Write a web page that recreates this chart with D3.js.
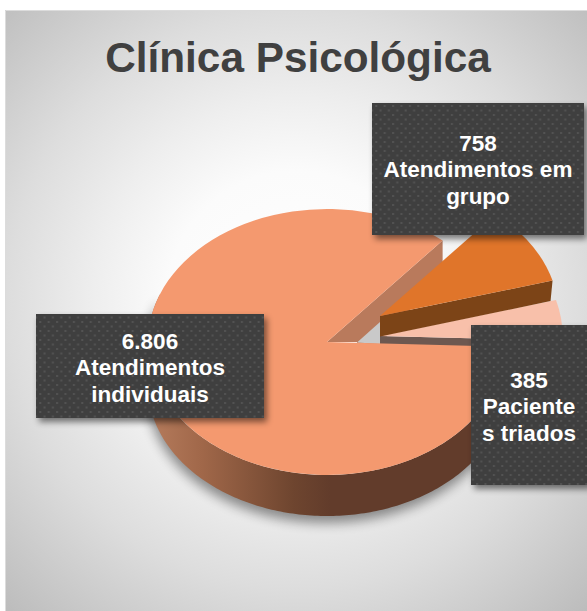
<!DOCTYPE html>
<html><head><meta charset="utf-8">
<script src="https://cdn.jsdelivr.net/npm/d3@7"></script>
<style>html,body{margin:0;padding:0;background:#fff}svg{display:block}text{font-family:"Liberation Sans",Arial,sans-serif;font-weight:bold}</style>
</head><body><svg id="c" width="587" height="611"></svg>
<script>
const title = "Clínica Psicológica";
const categories = ["Atendimentos individuais", "Atendimentos em grupo", "Pacientes triados"];
const values = [6806, 758, 385];
const valueLabels = ["6.806", "758", "385"];
const labelLines = [["Atendimentos", "individuais"], ["Atendimentos em", "grupo"], ["Paciente", "s triados"]];

const W = 587, H = 611, deg = Math.PI / 180;
const svg = d3.select("#c");
const defs = svg.append("defs");

// geometry of the tilted pie
const cx = 327, cy = 342, rx = 179, ry = 133, k = ry / rx;
const lowerOffset = 44, lowerRy = 130;       // rim of the lower edge of the big slice
const apex = [[327, 342], [380, 316], [380, 336]];
const radius = d3.scaleLinear().domain([0, 1]).range([0, rx]);
const pie = d3.pie().sort(null).value(d => d).startAngle(92 * deg).endAngle((92 + 360) * deg);
const arcs = pie(values);
const arcGen = d3.arc().innerRadius(0).outerRadius(d => radius(d.scale || 1));
const faceColors = ["#f4996f", "#e0752a", "#f8c0aa"];

// background
const bg = defs.append("radialGradient").attr("id", "bg").attr("gradientUnits", "userSpaceOnUse")
  .attr("cx", 296).attr("cy", 300).attr("r", 430);
[[0, "#ffffff"], [0.3, "#fbfbfb"], [0.47, "#eeeeee"], [0.67, "#dddddd"], [1, "#bbbbbb"]].forEach(s => bg.append("stop").attr("offset", s[0]).attr("stop-color", s[1]));
svg.append("rect").attr("x", 5).attr("y", 10).attr("width", W - 5).attr("height", H - 10).attr("fill", "url(#bg)");
svg.append("path").attr("d", `M5.5,${H}V10.5H${W}`).attr("fill", "none").attr("stroke", "#dcdcdc");

// filters and paints
const blur = (id, s) => defs.append("filter").attr("id", id).attr("x", "-20%").attr("y", "-20%").attr("width", "140%").attr("height", "140%")
  .append("feGaussianBlur").attr("stdDeviation", s);
blur("soft", 6); blur("boxsoft", 3);
const wallG = defs.append("linearGradient").attr("id", "wall").attr("gradientUnits", "userSpaceOnUse").attr("x1", 148).attr("x2", 330).attr("y1", 0).attr("y2", 0);
[[0, "#b67c5d"], [0.3, "#a06749"], [0.8, "#6e452f"], [1, "#623c2b"]].forEach(s => wallG.append("stop").attr("offset", s[0]).attr("stop-color", s[1]));
const pat = defs.append("pattern").attr("id", "dots").attr("patternUnits", "userSpaceOnUse").attr("width", 8.4).attr("height", 9);
pat.append("rect").attr("width", 8.4).attr("height", 9).attr("fill", "#3f3f3f");
[[1.5, 1.5], [5.7, 6]].forEach(p => pat.append("rect").attr("x", p[0]).attr("y", p[1]).attr("width", 2).attr("height", 2).attr("fill", "#535353"));

const plot = svg.append("g");
const main = arcs[0], grp = arcs[1], tri = Object.assign({}, arcs[2], {scale: 1.02});

// outer wall of the big slice
const rim = d3.area()
  .x(t => cx + rx * Math.sin(t))
  .y0(t => cy - ry * Math.cos(t))
  .y1(t => cy + lowerOffset - lowerRy * Math.cos(t));
const thetas = d3.range(main.startAngle, 292 * deg, deg);
plot.append("path").attr("d", rim(thetas)).attr("fill", "#000").attr("opacity", 0.42)
  .attr("transform", "translate(-1,7)").attr("filter", "url(#soft)");
plot.append("path").attr("d", rim(thetas)).attr("fill", "url(#wall)");

// inner wall of the big slice, facing the opened wedge
const line = d3.line();
const endX = cx + rx * Math.sin(main.endAngle), endY = cy - ry * Math.cos(main.endAngle);
plot.append("path").attr("d", line([[cx, cy], [endX, endY], [endX, endY + 30], [cx + 30, cy + 30], [cx + 30, cy]]) + "Z").attr("fill", "#b97a5c");

// grey gap below the group slice
plot.append("path").attr("d", line([[357, 342.5], [380, 322], [380, 344]]) + "Z").attr("fill", "#c9c9c9");

// helper: wall of a radial edge of an exploded slice
function radial(a, angle, depth, fill, shrink, s) {
  const ox = a[0] + (s || 1) * rx * Math.sin(angle), oy = a[1] - (s || 1) * ry * Math.cos(angle);
  plot.append("path").attr("d", line([[a[0], a[1]], [ox, oy], [ox - shrink, oy + depth], [a[0], a[1] + depth]]) + "Z").attr("fill", fill);
}
function face(a, d, fill) {
  plot.append("path").attr("d", arcGen(d)).attr("fill", fill)
    .attr("transform", `translate(${a[0]},${a[1]}) scale(1,${k})`);
}

// triados slice
radial(apex[2], tri.endAngle, 22, "#6d5850", 0, 1.02);
face(apex[2], tri, faceColors[2]);
// grupo slice
radial(apex[1], grp.endAngle, 20.5, "#7c4417", 2);
face(apex[1], grp, faceColors[1]);
// big slice
face(apex[0], main, faceColors[0]);

// title
svg.append("text").attr("x", 298).attr("y", 72).attr("text-anchor", "middle").attr("font-size", 42.3).attr("fill", "#404040").text(title);

// data label boxes, in the same order as the data
const boxes = [
  {x: 36, y: 314, w: 228, h: 104, first: 349},
  {x: 372, y: 103, w: 212, h: 132, first: 151},
  {x: 471, y: 325, w: 118, h: 160, first: 388}
];
boxes.forEach((b, i) => {
  const g = svg.append("g");
  g.append("rect").attr("x", b.x + 3).attr("y", b.y + 4).attr("width", b.w).attr("height", b.h).attr("fill", "#000").attr("opacity", 0.5).attr("filter", "url(#boxsoft)");
  g.append("rect").attr("x", b.x).attr("y", b.y).attr("width", b.w).attr("height", b.h).attr("fill", "url(#dots)");
  const tx = b.x + (i === 2 ? 58 : b.w / 2);
  [valueLabels[i]].concat(labelLines[i]).forEach((t, j) => {
    g.append("text").attr("x", tx).attr("y", b.first + j * 26.3).attr("text-anchor", "middle").attr("font-size", 22.5).attr("fill", "#fff").text(t);
  });
});
</script></body></html>
